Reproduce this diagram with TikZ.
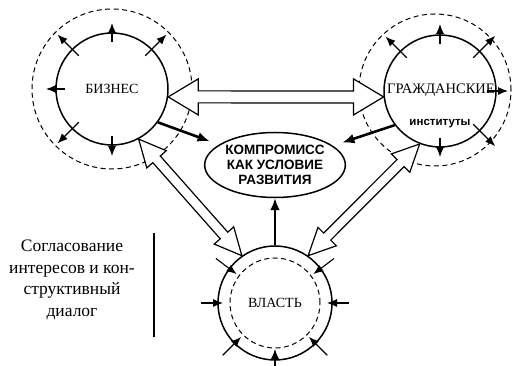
\documentclass[tikz,border=0pt]{standalone}
\usepackage{fontspec}
\setmainfont{Liberation Serif}
\newfontfamily\headsans{Liberation Sans}
\usetikzlibrary{calc,shapes.geometric,arrows.meta}

\newcommand{\hollowarrow}[5]{%
  \draw[fill=white, line width=1.2pt, line join=miter]
    (#1)
    -- ($(#1)!#3!(#2)!#4!90:(#2)$)
    -- ($(#1)!#3!(#2)!#5!90:(#2)$)
    -- ($(#2)!#3!(#1)!#5!-90:(#1)$)
    -- ($(#2)!#3!(#1)!#4!-90:(#1)$)
    -- (#2)
    -- ($(#2)!#3!(#1)!#4!90:(#1)$)
    -- ($(#2)!#3!(#1)!#5!90:(#1)$)
    -- ($(#1)!#3!(#2)!#5!-90:(#2)$)
    -- ($(#1)!#3!(#2)!#4!-90:(#2)$)
    -- cycle;}

\begin{document}
\begin{tikzpicture}[
    x=1pt, y=1pt,
    sphere/.style={
      draw,
      circle,
      line width=1.5pt,
      minimum size=112pt,
      inner sep=0pt,
      font=\fontsize{14}{16}\selectfont
    },
    halo/.style={
      draw,
      circle,
      dash pattern=on 5pt off 3.5pt,
      line width=1pt,
      inner sep=0pt
    },
    goal/.style={
      draw,
      ellipse,
      line width=1.5pt,
      minimum width=118pt,
      minimum height=65pt,
      inner sep=0pt,
      align=center,
      font=\headsans\bfseries\fontsize{13.5}{15}\selectfont
    },
    spike/.style={line width=1.1pt, -{Latex[length=10pt,width=8pt]}},
    push/.style={line width=2.6pt, -{Latex[length=12pt,width=10pt]}}
  ]
    \useasboundingbox (0,0) rectangle (519,366);

    \node[halo, minimum size=160pt] (bizhalo) at (112,277) {};
    \node[sphere] (biz) at (112,277) {БИЗНЕС};
    \node[halo, minimum size=152pt] (civhalo) at (435,276) {};
    \node[sphere] (civ) at (440,275) {};
    \node[font=\fontsize{14.5}{16}\selectfont] (civname) at (441,276) {ГРАЖДАНСКИЕ};
    \node[font=\headsans\bfseries\fontsize{11.5}{14}\selectfont] (civsub) at (440,242) {институты};
    \node[sphere, minimum size=114pt] (pow) at (275,63) {ВЛАСТЬ};
    \node[halo, minimum size=90pt] (powhalo) at (275,63) {};
    \node[goal] (comp) at (275,201) {КОМПРОМИСС\\КАК УСЛОВИЕ\\РАЗВИТИЯ};

    \node[align=center, font=\fontsize{17.5}{21.5}\selectfont] (dialog) at (72,86)
      {Согласование\\интересов и кон-\\структивный\\диалог};
    \coordinate (sepT) at (154,133);
    \coordinate (sepB) at (154,29);
    \draw[line width=1.1pt] (sepT) -- (sepB);

    \foreach \a/\r in {45/77,90/66,135/77,180/66,225/77,270/67}
      \draw[spike] ($(biz)+(\a:47)$) -- ($(biz)+(\a:\r)$);
    \foreach \a/\r in {0/68,45/78,90/67,135/77,270/66,-45/78}
      \draw[spike] ($(civ)+(\a:47)$) -- ($(civ)+(\a:\r)$);
    \foreach \a/\r in {0/52,37/48,143/48,180/52,225/48,270/46,315/48}
      \draw[spike] ($(pow)+(\a:74)$) -- ($(pow)+(\a:\r)$);

    \coordinate (bcA) at (biz.-8);
    \coordinate (bcB) at (civ.186);
    \coordinate (bpA) at (biz.-62);
    \coordinate (bpB) at (pow.125);
    \coordinate (cpA) at (civ.-111);
    \coordinate (cpB) at (pow.55);
    \hollowarrow{bcA}{bcB}{30pt}{18pt}{6pt}
    \hollowarrow{bpA}{bpB}{27pt}{13pt}{5pt}
    \hollowarrow{cpA}{cpB}{27pt}{13pt}{5pt}

    \draw[push, shorten >=10pt] (biz.-36) -- (comp);
    \draw[push, shorten >=10pt] (civ.217) -- (comp);
    \draw[push] (pow) -- (comp);
  \end{tikzpicture}
\end{document}
